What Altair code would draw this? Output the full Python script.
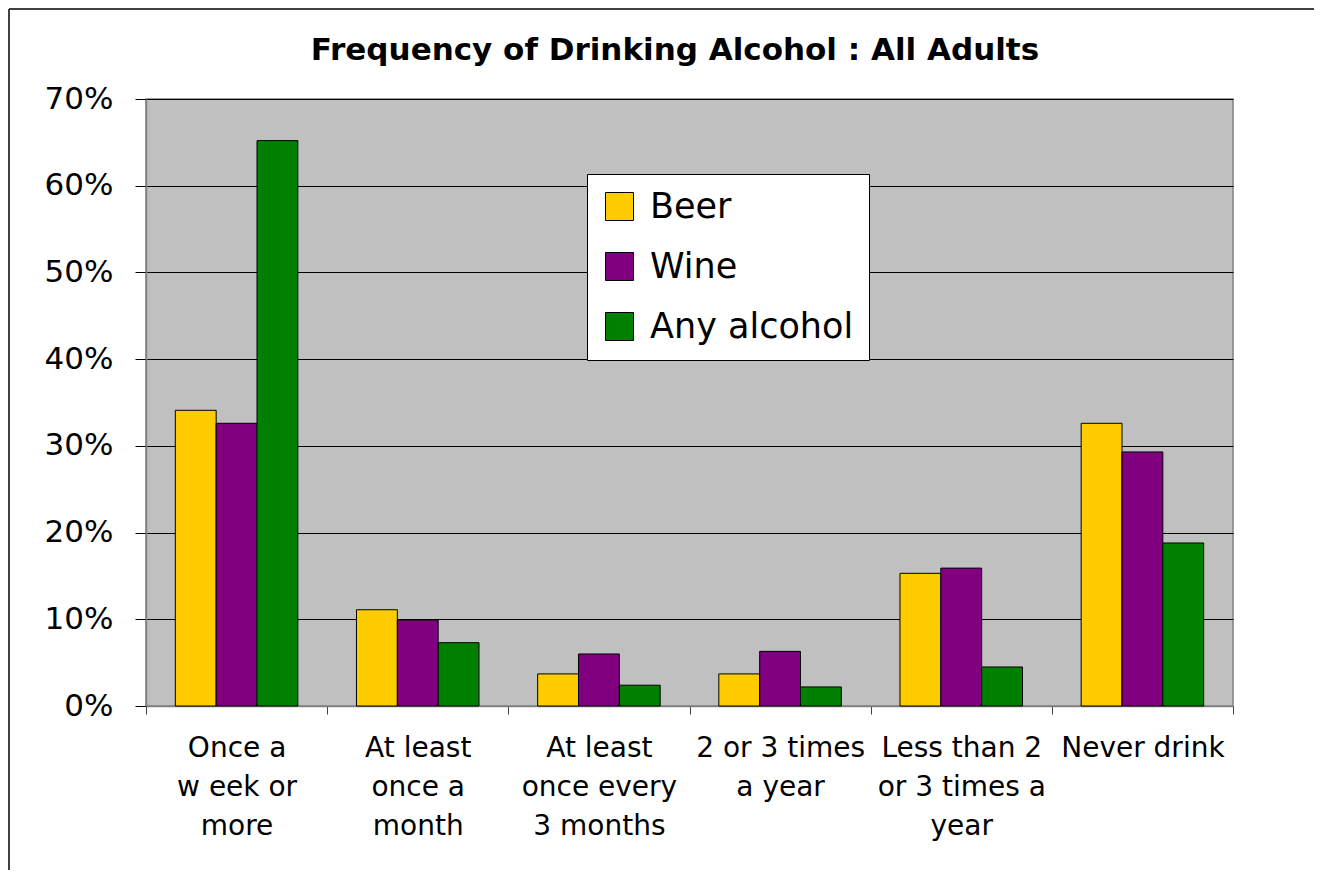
import altair as alt
import pandas as pd

title_text = "Frequency of Drinking Alcohol : All Adults"
categories = [
    "Once a\nw eek or\nmore",
    "At least\nonce a\nmonth",
    "At least\nonce every\n3 months",
    "2 or 3 times\na year",
    "Less than 2\nor 3 times a\nyear",
    "Never drink",
]
series = ["Beer", "Wine", "Any alcohol"]
beer = [0.341, 0.111, 0.037, 0.037, 0.153, 0.326]
wine = [0.326, 0.099, 0.060, 0.063, 0.159, 0.293]
any_alcohol = [0.652, 0.073, 0.024, 0.022, 0.045, 0.188]
colors = ["#FFCC00", "#800080", "#008000"]
y_ticks = [0, 0.1, 0.2, 0.3, 0.4, 0.5, 0.6, 0.7]

rows = []
for name, vals in zip(series, [beer, wine, any_alcohol]):
    for c, v in zip(categories, vals):
        rows.append({"category": c, "series": name, "value": v})
df = pd.DataFrame(rows)

FONT = "DejaVu Sans"

bars = alt.Chart(df).mark_bar(stroke="black", strokeWidth=1).encode(
    x=alt.X(
        "category:N",
        sort=categories,
        title=None,
        scale=alt.Scale(paddingInner=0, paddingOuter=0),
        axis=alt.Axis(
            labelExpr="isValid(datum.value) ? split(datum.value, '\\n') : ''",
            labelAngle=0,
            labelFont=FONT,
            labelFontSize=28,
            labelColor="black",
            labelBaseline="top",
            labelLineHeight=39,
            labelPadding=20,
            labelLimit=400,
            labelOverlap=False,
            tickBand="extent",
            tickSize=8,
            tickColor="#404040",
            domainColor="#808080",
            domainWidth=1.5,
            grid=False,
        ),
    ),
    xOffset=alt.XOffset(
        "series:N", sort=series, scale=alt.Scale(paddingOuter=0.718, paddingInner=0)
    ),
    y=alt.Y(
        "value:Q",
        title=None,
        scale=alt.Scale(domain=[0, 0.7], nice=False),
        axis=alt.Axis(
            values=y_ticks,
            format=".0%",
            labelFont=FONT,
            labelFontSize=31,
            labelColor="black",
            labelPadding=22,
            tickSize=11,
            tickColor="black",
            domainColor="#808080",
            domainWidth=1.5,
            grid=True,
            gridColor="black",
            gridWidth=1,
            gridOpacity=1,
        ),
    ),
    color=alt.Color(
        "series:N",
        sort=series,
        scale=alt.Scale(domain=series, range=colors),
        legend=alt.Legend(
            title=None,
            orient="none",
            legendX=441,
            legendY=75,
            fillColor="white",
            strokeColor="black",
            padding=15,
            symbolType="square",
            symbolSize=784,
            symbolStrokeColor="black",
            symbolStrokeWidth=1,
            symbolOpacity=1,
            labelFont=FONT,
            labelFontSize=35,
            labelColor="black",
            labelOffset=13,
            labelLimit=600,
            rowPadding=24,
        ),
    ),
)

single = pd.DataFrame({"a": [0]})

top_line = alt.Chart(single).mark_rule(color="#404040", strokeWidth=2).encode(
    x=alt.value(-137),
    x2=alt.value(1300),
    y=alt.value(-90),
)
left_line = alt.Chart(single).mark_rule(color="#404040", strokeWidth=2).encode(
    x=alt.value(-137),
    y=alt.value(-90),
    y2=alt.value(1000),
)

title = alt.Chart(single).mark_text(
    font=FONT,
    fontSize=31,
    fontWeight="bold",
    color="black",
    align="center",
    baseline="alphabetic",
).encode(
    x=alt.value(529),
    y=alt.value(-39),
    text=alt.value(title_text),
)

chart = (
    alt.layer(bars, top_line, left_line, title)
    .properties(
        width=1087,
        height=607,
        autosize=alt.AutoSizeParams(type="none"),
        padding={"left": 138, "top": 91, "right": 81, "bottom": 164},
        background="white",
    )
    .configure_view(fill="#C0C0C0", stroke="#808080", strokeWidth=1.5)
)

chart.save("out.html", embed_options={"renderer": "svg", "actions": False})
